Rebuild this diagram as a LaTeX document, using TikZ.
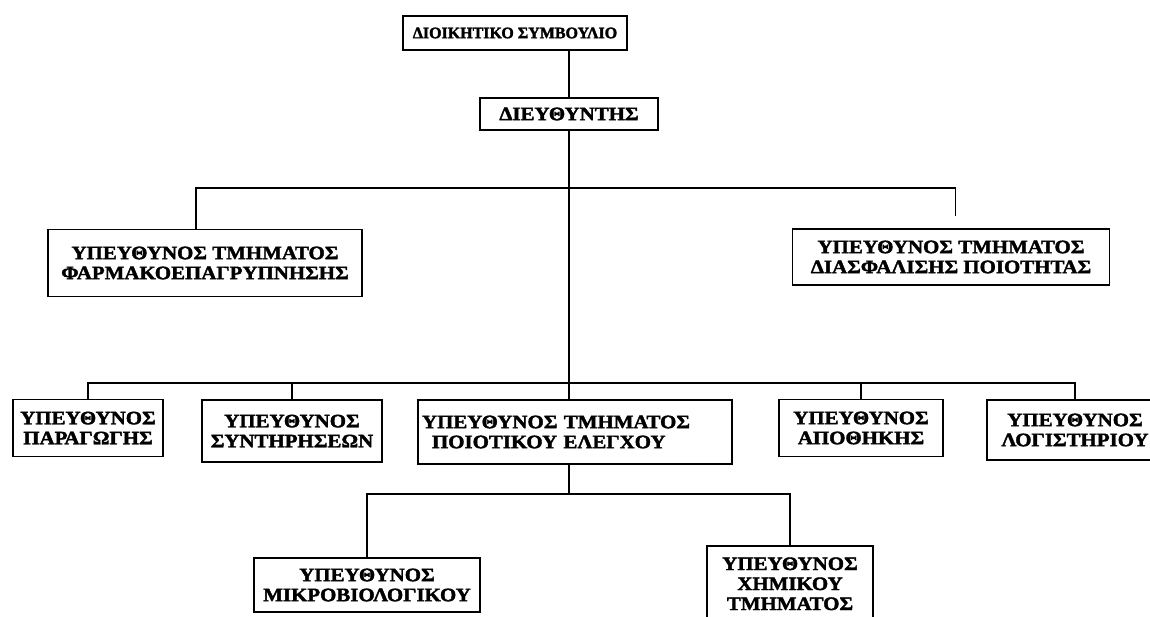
\documentclass[tikz,border=0pt]{standalone}
\usepackage{fontspec}
\newfontfamily\orgfont{Liberation Serif Bold}[FakeStretch=1.1, FakeBold=2]
\newfontfamily\headfont{Liberation Serif Bold}[FakeBold=2]
\begin{document}
\begin{tikzpicture}[x=1pt,y=-1pt,
  unit/.style={draw, line width=1.6pt, inner sep=0pt, align=center,
    font=\orgfont\fontsize{19}{20}\selectfont},
  link/.style={line width=1.5pt}]
\useasboundingbox (0,0) rectangle (1150,617);
\clip (0,0) rectangle (1150,617);

% board and director
\node[unit, minimum width=224pt, minimum height=34pt,
  font=\headfont\fontsize{16}{18}\selectfont] (board) at (515,33) {ΔΙΟΙΚΗΤΙΚΟ ΣΥΜΒΟΥΛΙΟ};
\node[unit, minimum width=178pt, minimum height=32pt] (director) at (569,114) {ΔΙΕΥΘΥΝΤΗΣ};

% first tier
\node[unit, minimum width=314pt, minimum height=67pt] (pharma) at (205,263)
  {ΥΠΕΥΘΥΝΟΣ ΤΜΗΜΑΤΟΣ\\ΦΑΡΜΑΚΟΕΠΑΓΡΥΠΝΗΣΗΣ};
\node[unit, minimum width=317pt, minimum height=56pt] (qa) at (951,257)
  {ΥΠΕΥΘΥΝΟΣ ΤΜΗΜΑΤΟΣ\\ΔΙΑΣΦΑΛΙΣΗΣ ΠΟΙΟΤΗΤΑΣ};

% second tier
\node[unit, minimum width=150pt, minimum height=57pt] (prod) at (88,428)
  {ΥΠΕΥΘΥΝΟΣ\\ΠΑΡΑΓΩΓΗΣ};
\node[unit, minimum width=180pt, minimum height=62pt] (maint) at (292,431)
  {ΥΠΕΥΘΥΝΟΣ\\ΣΥΝΤΗΡΗΣΕΩΝ};
\node[unit, align=left, text width=306pt, inner xsep=4pt, minimum height=64pt] (qc) at (575,432)
  {ΥΠΕΥΘΥΝΟΣ ΤΜΗΜΑΤΟΣ\\\hspace*{10pt}ΠΟΙΟΤΙΚΟΥ ΕΛΕΓΧΟΥ};
\node[unit, minimum width=164pt, minimum height=57pt] (store) at (861,428)
  {ΥΠΕΥΘΥΝΟΣ\\ΑΠΟΘΗΚΗΣ};
\node[unit, minimum width=176pt, minimum height=60pt] (acct) at (1075,430)
  {ΥΠΕΥΘΥΝΟΣ\\ΛΟΓΙΣΤΗΡΙΟΥ};

% third tier
\node[unit, minimum width=226pt, minimum height=54pt] (micro) at (367,585)
  {ΥΠΕΥΘΥΝΟΣ\\ΜΙΚΡΟΒΙΟΛΟΓΙΚΟΥ};
\node[unit, anchor=north, minimum width=166pt, minimum height=76pt] (chem) at (790,545)
  {ΥΠΕΥΘΥΝΟΣ\\ΧΗΜΙΚΟΥ\\ΤΜΗΜΑΤΟΣ};

% bus junctions
\coordinate (bus1) at (569,188);
\coordinate (bus2) at (569,383);
\coordinate (bus3) at (569,494);

% connectors
\draw[link] (director.north) -- (director.north |- board.south);
\draw[link] (director.south) -- (director.south |- qc.north);
\draw[link] ([xshift=-9pt]pharma.north) |- (bus1) -| ([xshift=4.5pt,yshift=12pt]qa.north);
\draw[link] (prod.north) |- (bus2) -| (acct.north);
\draw[link] (maint.north) -- (maint.north |- bus2);
\draw[link] (store.north) -- (store.north |- bus2);
\draw[link] (qc.south -| director) -- (bus3);
\draw[link] (micro.north) |- (bus3) -| (chem.north);
\end{tikzpicture}
\end{document}
